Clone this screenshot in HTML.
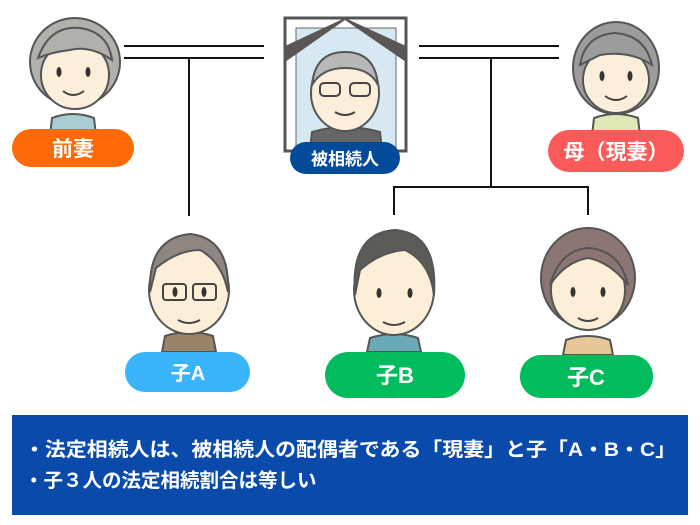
<!DOCTYPE html>
<html><head><meta charset="utf-8"><style>
body{margin:0;width:700px;height:525px;background:#fff;overflow:hidden;font-family:"Liberation Sans","Noto Sans CJK JP",sans-serif;}
svg{position:absolute;left:0;top:0}
.t{font-family:"Liberation Sans","Noto Sans CJK JP",sans-serif;font-weight:bold;fill:#fff}
.e{fill:#333;stroke:none}
.m{fill:none;stroke:#444;stroke-width:2}
</style></head><body>
<svg width="700" height="525" viewBox="0 0 700 525">
<g stroke="#111" stroke-width="2" fill="none">
<line x1="124" y1="46" x2="264" y2="46"/><line x1="124" y1="58" x2="264" y2="58"/>
<line x1="189" y1="58" x2="189" y2="216"/>
<line x1="419" y1="46" x2="559" y2="46"/><line x1="419" y1="58" x2="559" y2="58"/>
<line x1="491" y1="58" x2="491" y2="187"/>
<polyline points="394,215 394,187 588,187 588,215"/>
</g>
<!-- 前妻 -->
<g stroke="#555" stroke-width="2">
<path d="M50 135 L52 118 Q73 110 94 118 L96 135Z" fill="#a9cdd3"/>
<ellipse cx="75" cy="62" rx="45" ry="44" fill="#b2b0ab"/>
<ellipse cx="75" cy="75" rx="34" ry="34" fill="#fbefdc"/>
<path d="M38 58 Q50 25 80 28 Q108 32 112 60 Q90 45 70 50 Q52 52 38 58Z" fill="#b2b0ab"/>
</g>
<ellipse class="e" cx="59" cy="72" rx="2.5" ry="5"/><ellipse class="e" cx="88" cy="72" rx="2.5" ry="5"/>
<path class="m" d="M63 91 Q73 99 84 91"/>
<!-- 母 -->
<g stroke="#555" stroke-width="2">
<path d="M592 135 L594 118 Q616 110 638 118 L640 135Z" fill="#dfe8b4"/>
<ellipse cx="616" cy="68" rx="43" ry="46" fill="#9c9c9c"/>
<ellipse cx="616" cy="80" rx="33" ry="33" fill="#fbefdc"/>
<path d="M580 65 Q585 35 615 33 Q645 35 652 65 Q630 50 600 55Z" fill="#9c9c9c"/>
</g>
<ellipse class="e" cx="602" cy="76" rx="2.5" ry="5"/><ellipse class="e" cx="630" cy="76" rx="2.5" ry="5"/>
<path class="m" d="M605 96 Q616 104 627 96"/>
<!-- portrait -->
<rect x="285" y="18" width="121" height="133" fill="#fff" stroke="#555" stroke-width="3"/>
<rect x="296" y="28" width="100" height="122" fill="#d6e9f2" stroke="#666" stroke-width="1"/>
<path d="M285 62 L345 20 L406 62 L406 46 L345 18 L285 46Z" fill="#5a5656"/>
<g stroke="#555" stroke-width="2">
<path d="M310 150 L312 132 Q345 122 380 132 L382 150Z" fill="#666"/>
<ellipse cx="345" cy="93" rx="34" ry="38" fill="#fbefdc"/>
<path d="M312 85 Q315 52 345 52 Q375 52 378 85 Q370 68 345 68 Q322 68 312 85Z" fill="#b8b8b8"/>
</g>
<g class="m" stroke-width="1.5"><rect x="320" y="83" width="20" height="13" rx="4"/><rect x="350" y="83" width="20" height="13" rx="4"/></g>
<path class="m" d="M335 112 Q345 118 355 112"/>
<!-- children -->
<g stroke="#555" stroke-width="2">
<path d="M162 352 L165 336 Q189 328 213 336 L216 352Z" fill="#9a8468"/>
<ellipse cx="189" cy="290" rx="40" ry="44" fill="#fdeed7"/>
<path d="M150 292 Q148 238 190 234 Q230 238 228 292 Q222 262 200 250 Q178 250 156 268Z" fill="#8e8680"/>
<path d="M367 352 L370 338 Q394 330 418 338 L421 352Z" fill="#6aaab8"/>
<ellipse cx="394" cy="290" rx="40" ry="45" fill="#fdeed7"/>
<path d="M355 295 Q350 232 396 230 Q438 234 434 295 Q430 262 405 250 Q380 252 360 270Z" fill="#5d5b58"/>
<path d="M563 355 L566 340 Q588 332 610 340 L613 355Z" fill="#e6c795"/>
<ellipse cx="588" cy="278" rx="47" ry="50" fill="#8c7674"/>
<ellipse cx="588" cy="290" rx="37" ry="40" fill="#fdeed7"/>
<path d="M550 285 Q560 250 588 248 Q620 250 628 285 Q610 262 588 258 Q565 262 550 285Z" fill="#8c7674"/>
</g>
<g class="m" stroke-width="1.5"><rect x="163" y="284" width="23" height="16" rx="3"/><rect x="193" y="284" width="23" height="16" rx="3"/></g>
<ellipse class="e" cx="175" cy="292" rx="2.5" ry="5"/><ellipse class="e" cx="204" cy="292" rx="2.5" ry="5"/>
<path class="m" d="M178 320 Q189 326 200 320"/>
<ellipse class="e" cx="379" cy="293" rx="2.5" ry="5"/><ellipse class="e" cx="410" cy="293" rx="2.5" ry="5"/>
<path class="m" d="M383 322 Q394 328 405 322"/>
<ellipse class="e" cx="573" cy="292" rx="2.5" ry="5"/><ellipse class="e" cx="603" cy="292" rx="2.5" ry="5"/>
<path class="m" d="M578 318 Q588 324 598 318"/>
<!-- labels -->
<rect x="12" y="129" width="122" height="38" rx="19" fill="#fe6a05"/>
<text class="t" x="73" y="156" font-size="21" text-anchor="middle">前妻</text>
<rect x="290" y="142" width="110" height="32" rx="16" fill="#044a9b"/>
<text class="t" x="345" y="165" font-size="17" text-anchor="middle">被相続人</text>
<rect x="548" y="130" width="136" height="42" rx="21" fill="#fb5a5a"/>
<text class="t" x="616" y="159" font-size="21" text-anchor="middle">母（現妻）</text>
<rect x="125" y="352" width="125" height="40" rx="20" fill="#3ab4fa"/>
<text class="t" x="188" y="380" font-size="20" text-anchor="middle">子A</text>
<rect x="325" y="352" width="140" height="46" rx="23" fill="#00bc5c"/>
<text class="t" x="395" y="383" font-size="22" text-anchor="middle">子B</text>
<rect x="520" y="355" width="133" height="43" rx="21" fill="#00bc5c"/>
<text class="t" x="586" y="385" font-size="22" text-anchor="middle">子C</text>
<rect x="12" y="415" width="676" height="100" fill="#0a4aab"/>
<text class="t" x="24" y="456" font-size="19.5" textLength="652" lengthAdjust="spacingAndGlyphs">・法定相続人は、被相続人の配偶者である「現妻」と子「A・B・C」</text>
<text class="t" x="24" y="487" font-size="19.5">・子３人の法定相続割合は等しい</text>
</svg>
</body></html>
